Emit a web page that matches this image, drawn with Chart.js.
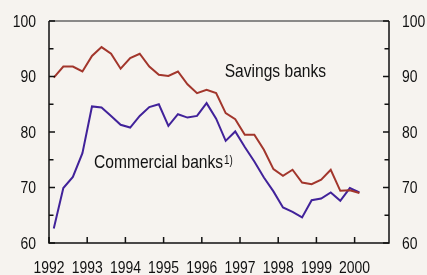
<!DOCTYPE html>
<html>
<head>
<meta charset="utf-8">
<script src="https://cdn.jsdelivr.net/npm/chart.js@4/dist/chart.umd.min.js"></script>
<style>
html,body{margin:0;padding:0;background:#F6F3EF;}
#wrap{width:427px;height:275px;position:relative;}
</style>
</head>
<body>
<div id="wrap"><canvas id="c" width="427" height="275"></canvas></div>
<script>
// Quarter mid-points (x positions in years)
const quarters = [1992.125,1992.375,1992.625,1992.875,1993.125,1993.375,1993.625,1993.875,
  1994.125,1994.375,1994.625,1994.875,1995.125,1995.375,1995.625,1995.875,
  1996.125,1996.375,1996.625,1996.875,1997.125,1997.375,1997.625,1997.875,
  1998.125,1998.375,1998.625,1998.875,1999.125,1999.375,1999.625,1999.875,2000.125];
const savingsBanks = [89.8,91.8,91.8,90.9,93.7,95.3,94.1,91.4,93.3,94.1,91.8,90.3,90.1,90.9,88.6,87.0,
  87.6,87.0,83.4,82.3,79.5,79.5,76.8,73.3,72.1,73.2,70.9,70.6,71.4,73.2,69.4,69.5,69.0];
const commercialBanks = [62.6,69.9,71.9,76.2,84.6,84.4,82.9,81.3,80.8,82.9,84.5,85.0,81.1,83.2,82.6,82.9,
  85.2,82.4,78.4,80.1,77.3,74.7,71.8,69.3,66.4,65.6,64.6,67.7,68.0,69.1,67.6,69.9,69.1];
const yearTicks = [1992,1993,1994,1995,1996,1997,1998,1999,2000];
const valueTicks = [60,65,70,75,80,85,90,95,100];
const seriesLabels = ['Savings banks','Commercial banks'];
const footnote = '1)';

const FONT = '"Liberation Sans",Arial,sans-serif';
const NARROW = 0.82;
const SAV_COLOR = '#A2362C';
const COM_COLOR = '#41229A';

function pts(vals){ return vals.map((v,i)=>({x:quarters[i], y:v})); }

function narrowText(ctx, text, x, y, align, size){
  ctx.save();
  ctx.font = size + 'px ' + FONT;
  ctx.translate(x, y);
  ctx.scale(NARROW, 1);
  ctx.textAlign = align;
  ctx.textBaseline = 'middle';
  ctx.fillText(text, 0, 0);
  const w = ctx.measureText(text).width * NARROW;
  ctx.restore();
  return w;
}

const framePlugin = {
  id:'frame',
  beforeDraw(chart){
    const ctx = chart.ctx;
    ctx.save();
    ctx.fillStyle = '#F6F3EF';
    ctx.fillRect(0,0,chart.width,chart.height);
    ctx.restore();
  },
  afterDraw(chart){
    const ctx = chart.ctx;
    const {left,right,top,bottom} = chart.chartArea;
    ctx.save();
    ctx.lineWidth = 1.5;
    ctx.strokeStyle = '#666';
    ctx.beginPath(); ctx.moveTo(left,top); ctx.lineTo(right,top); ctx.stroke();
    ctx.strokeStyle = '#111';
    ctx.beginPath();
    ctx.moveTo(left,top); ctx.lineTo(left,bottom); ctx.lineTo(right,bottom); ctx.lineTo(right,top);
    ctx.stroke();
    const yl = chart.scales.y, xs = chart.scales.x;
    ctx.beginPath();
    valueTicks.forEach(v=>{
      const p = yl.getPixelForValue(v);
      const len = (v % 10 === 0) ? 6 : 4.5;
      ctx.moveTo(left,p); ctx.lineTo(left+len,p);
      ctx.moveTo(right,p); ctx.lineTo(right-len,p);
    });
    yearTicks.forEach(v=>{
      const p = xs.getPixelForValue(v);
      ctx.moveTo(p,bottom); ctx.lineTo(p,bottom-6);
    });
    ctx.stroke();
    ctx.fillStyle = '#111';
    // tick labels
    valueTicks.filter(v=>v % 10 === 0).forEach(v=>{
      const p = yl.getPixelForValue(v) + 1;
      narrowText(ctx, String(v), left - 13, p, 'right', 17);
      narrowText(ctx, String(v), right + 13, p, 'left', 17);
    });
    yearTicks.forEach(v=>{
      const p = xs.getPixelForValue(v);
      narrowText(ctx, String(v), p, bottom + 25, 'center', 17);
    });
    // annotations
    const sx = xs.getPixelForValue(1996.6), sy = yl.getPixelForValue(90.8);
    narrowText(ctx, seriesLabels[0], sx, sy, 'left', 19);
    const cx = xs.getPixelForValue(1993.18), cy = yl.getPixelForValue(74.4);
    const w = narrowText(ctx, seriesLabels[1], cx, cy, 'left', 19);
    narrowText(ctx, footnote, cx + w + 1, cy - 2, 'left', 12);
    ctx.restore();
  }
};

new Chart(document.getElementById('c'), {
  type:'line',
  data:{
    datasets:[
      {label:seriesLabels[0], data:pts(savingsBanks), borderColor:SAV_COLOR, borderWidth:2, pointRadius:0, tension:0, yAxisID:'y'},
      {label:seriesLabels[1], data:pts(commercialBanks), borderColor:COM_COLOR, borderWidth:2, pointRadius:0, tension:0, yAxisID:'y'}
    ]
  },
  options:{
    responsive:false,
    animation:false,
    devicePixelRatio:1,
    layout:{padding:{top:21,left:0,right:0,bottom:0}},
    plugins:{legend:{display:false}, tooltip:{enabled:false}},
    scales:{
      x:{
        type:'linear', min:1992, max:2000.9,
        grid:{display:false, drawTicks:false},
        border:{display:false},
        afterFit(scale){ scale.height = 32; },
        ticks:{ display:false }
      },
      y:{
        position:'left', min:60, max:100,
        grid:{display:false, drawTicks:false},
        border:{display:false},
        afterFit(scale){ scale.width = 49; },
        ticks:{ display:false, stepSize:5 }
      },
      y2:{
        position:'right', min:60, max:100,
        grid:{display:false, drawTicks:false},
        border:{display:false},
        afterFit(scale){ scale.width = 38; },
        ticks:{ display:false, stepSize:5 }
      }
    }
  },
  plugins:[framePlugin]
});
</script>
</body>
</html>
